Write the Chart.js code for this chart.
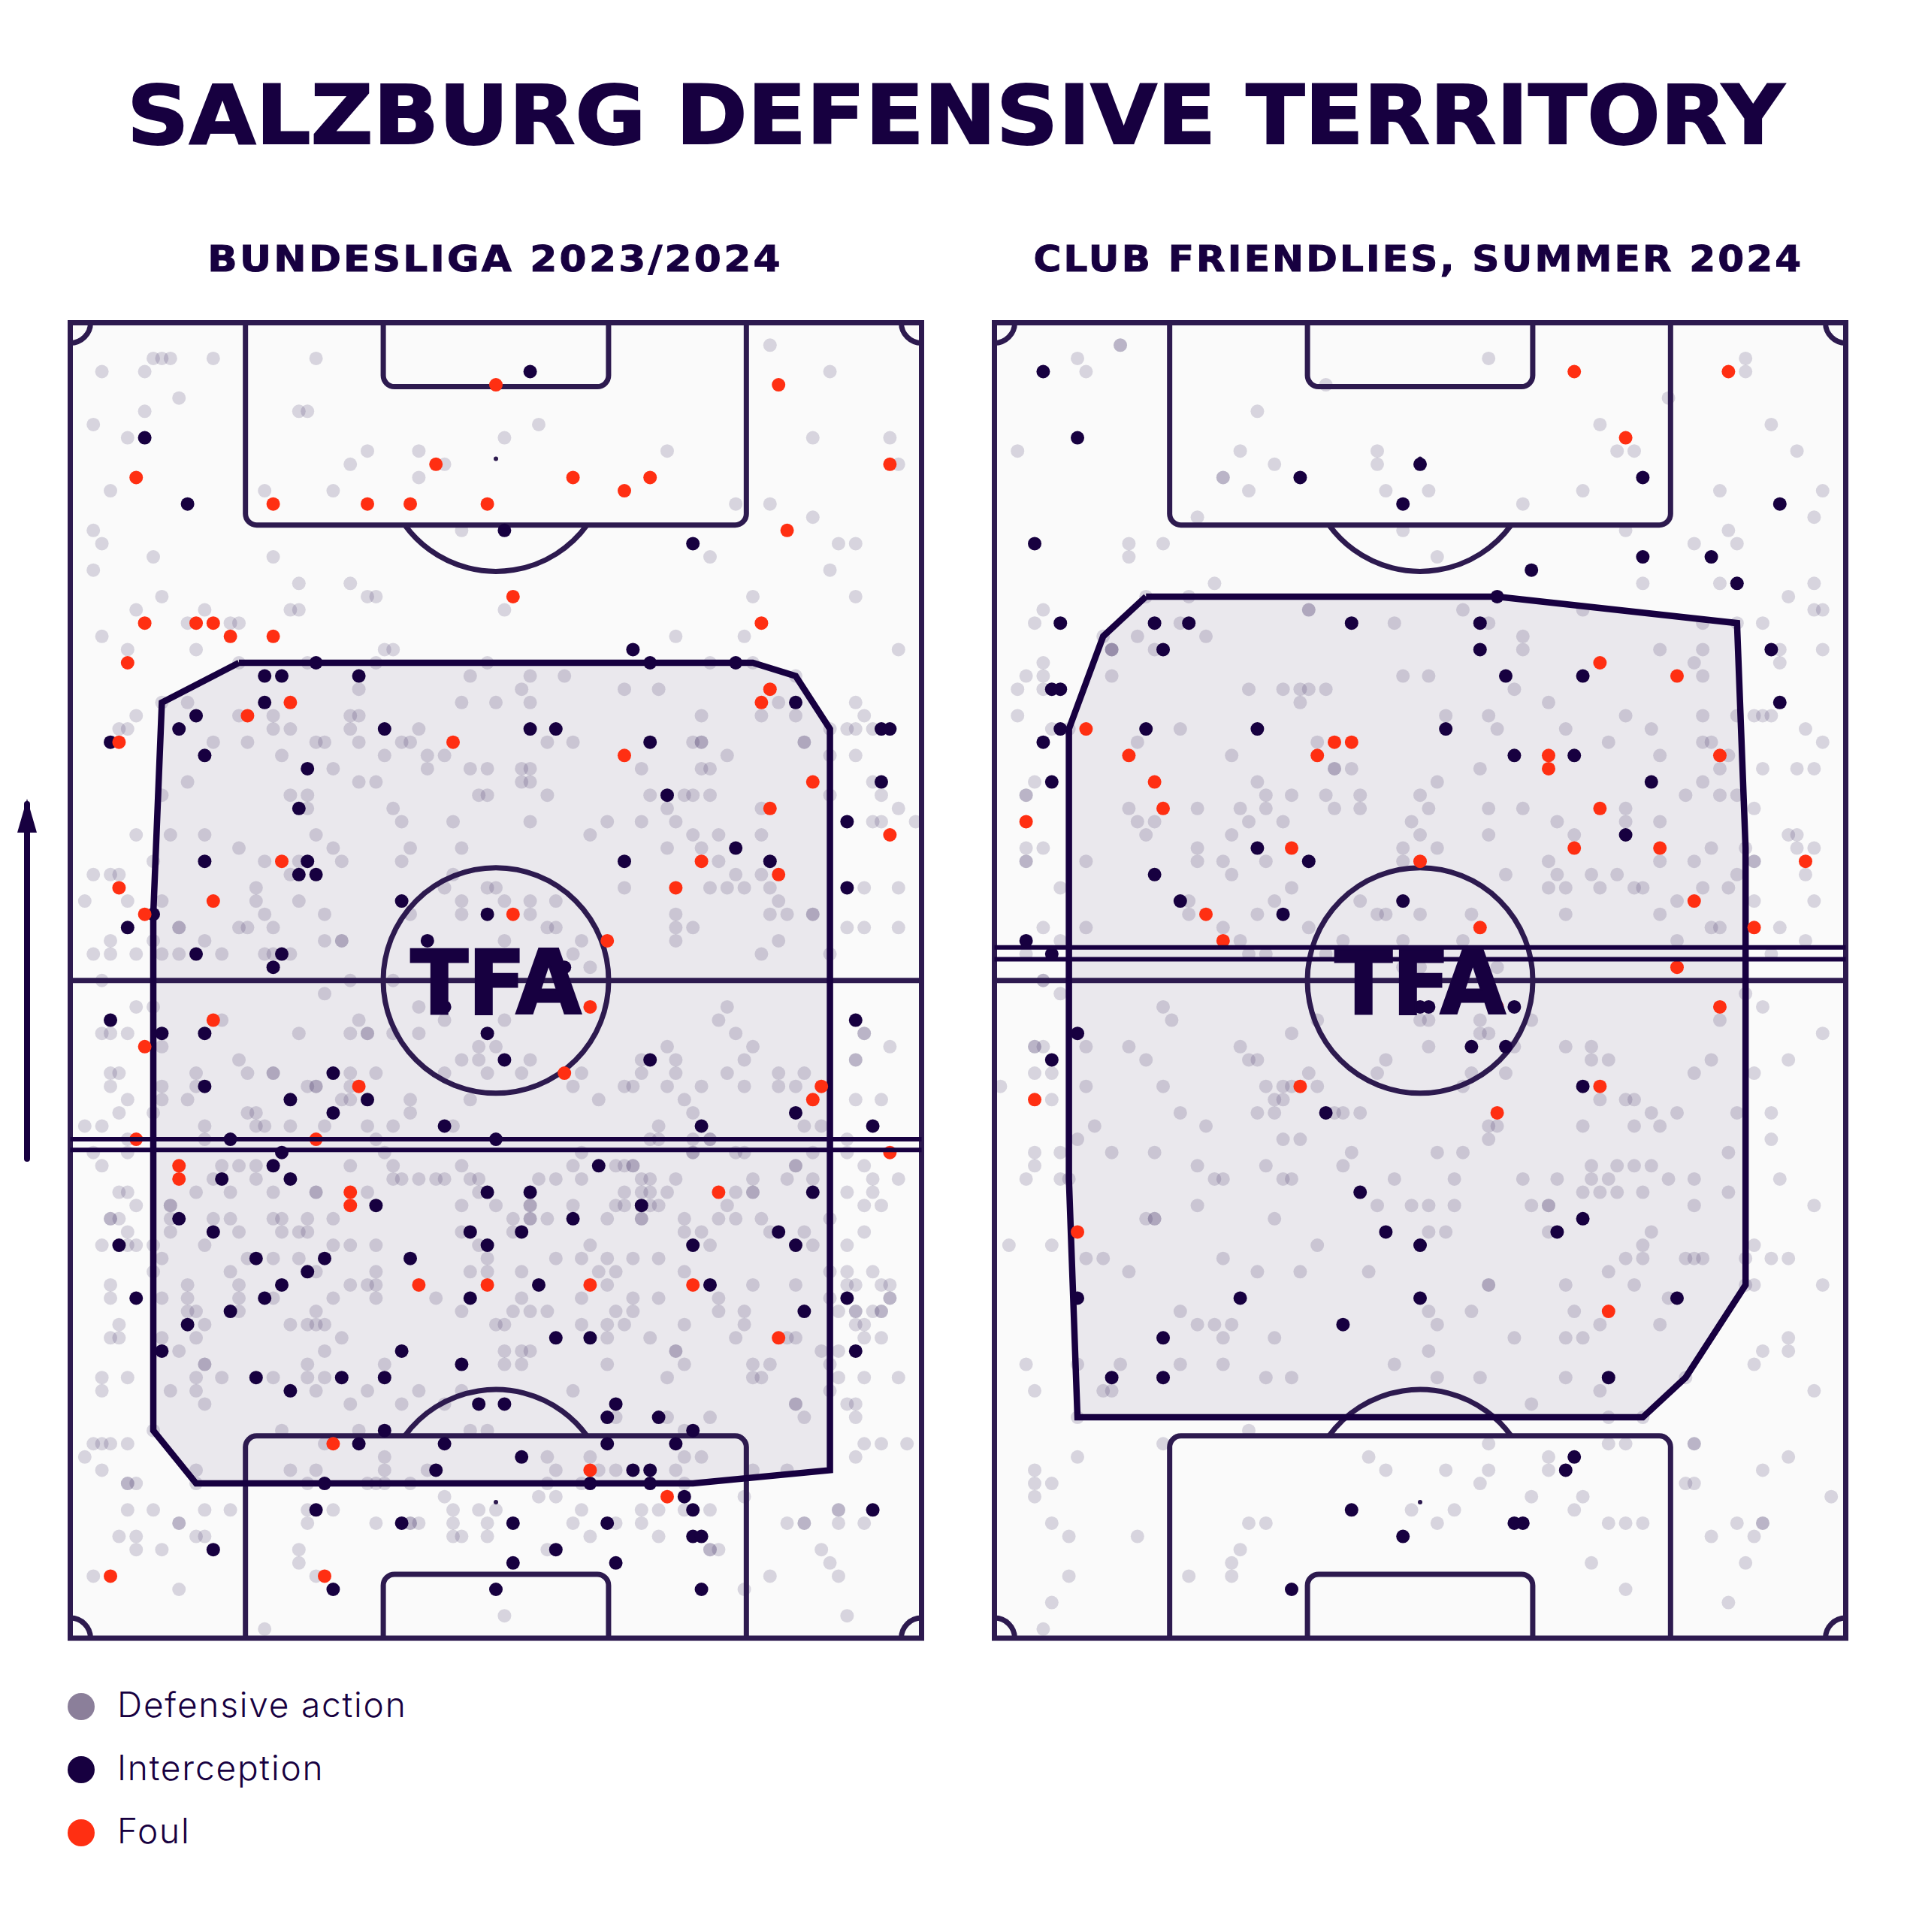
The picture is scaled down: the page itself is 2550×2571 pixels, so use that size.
<!DOCTYPE html>
<html>
<head>
<meta charset="utf-8">
<title>Salzburg defensive territory</title>
<script src="https://cdn.jsdelivr.net/npm/chart.js@4"></script>
<style>
  body { margin: 0; background: #fff; color: #170040; width: 2550px; height: 2571px; position: relative; overflow: hidden; }
  h1, h2, .legend-row, canvas, svg { position: absolute; margin: 0; }
  h1 { left: 0; top: 91px; width: 2544px; text-align: center; font: bold 108px/126px "DejaVu Sans"; transform: scaleX(1.062); -webkit-text-stroke: 2px #170040; }
  h2 { top: 316px; width: 1160px; text-align: center; font: bold 48px/56px "DejaVu Sans"; letter-spacing: 3px; -webkit-text-stroke: 1px #170040; }
  .legend-row { left: 90px; height: 36px; font: 300 46px/36px Inter; letter-spacing: 1.8px; display: flex; align-items: center; }
  .legend-row i { width: 36px; height: 36px; border-radius: 50%; margin-right: 30px; }
  .legend-row span { position: relative; top: -3px; }
</style>
</head>
<body>
<h1>SALZBURG DEFENSIVE TERRITORY</h1>
<h2 style="left:79px;transform:scaleX(1.079)">BUNDESLIGA 2023/2024</h2>
<h2 style="left:1308px;transform:scaleX(1.045)">CLUB FRIENDLIES, SUMMER 2024</h2>

<svg style="left:20px;top:1050px" width="32" height="510">
  <path d="M16 20V492" stroke="#170040" stroke-width="8" stroke-linecap="round"/>
  <path d="M16 13L29 58H3Z" fill="#170040"/>
</svg>

<canvas id="pitch1" style="left:80px;top:416px"></canvas>
<canvas id="pitch2" style="left:1310px;top:416px"></canvas>
<div id="legend"></div>

<script>
// values, [across, up] on the 0-100 pitch grid
const legendLabels = ['Defensive action', 'Interception', 'Foul'];

const bundesligaActions = [
  [82,98],[10,97],[11,97],[12,97],[17,97],[29,97],[4,96],[9,96],[89,96],[13,94],[9,93],[27,93],[28,93],
  [3,92],[55,92],[7,91],[51,91],[87,91],[96,91],[35,90],[41,90],[70,90],[33,89],[44,89],[97,89],[41,88],
  [5,87],[23,87],[31,87],[78,86],[82,86],[87,85],[3,84],[46,84],[4,83],[90,83],[92,83],[10,82],[24,82],[75,82],
  [3,81],[89,81],[27,80],[33,80],[11,79],[35,79],[36,79],[80,79],[92,79],[8,78],[16,78],[26,78],[27,78],[51,78],
  [14,77],[19,77],[20,77],[4,76],[71,76],[79,76],[7,75],[15,75],[37,75],[38,75],[97,75],
  [20,74],[28,74],[36,74],[49,74],[75,74],[80,74],[47,73],[54,73],[58,73],[85,73],
  [34,72],[53,72],[65,72],[69,72],[11,71],[14,71],[46,71],[50,71],[54,71],[83,71],[92,71],
  [8,70],[20,70],[24,70],[33,70],[34,70],[74,70],[81,70],[85,70],[93,70],
  [6,69],[7,69],[24,69],[26,69],[33,69],[41,69],[89,69],[91,69],[92,69],[94,69],
  [17,68],[21,68],[29,68],[30,68],[34,68],[39,68],[40,68],[56,68],[59,68],[73,68],[74,68],[74,68],[86,68],[86,68],
  [25,67],[37,67],[42,67],[44,67],[77,67],[89,67],[92,67],
  [31,66],[42,66],[47,66],[49,66],[53,66],[54,66],[67,66],[74,66],[75,66],
  [14,65],[34,65],[36,65],[53,65],[54,65],[94,65],
  [11,64],[26,64],[28,64],[48,64],[49,64],[56,64],[68,64],[72,64],[73,64],[75,64],[89,64],[95,64],
  [28,63],[38,63],[70,63],[81,63],[97,63],
  [39,62],[45,62],[54,62],[63,62],[67,62],[71,62],[94,62],[95,62],[99,62],
  [8,61],[12,61],[16,61],[29,61],[61,61],[73,61],[76,61],[81,61],
  [20,60],[31,60],[40,60],[46,60],[70,60],[74,60],
  [10,59],[23,59],[27,59],[32,59],[39,59],[76,59],
  [3,58],[5,58],[6,58],[26,58],[45,58],[78,58],[81,58],
  [22,57],[44,57],[49,57],[50,57],[65,57],[75,57],[77,57],[79,57],[82,57],[93,57],[97,57],
  [2,56],[7,56],[11,56],[22,56],[27,56],[46,56],[51,56],[54,56],[57,56],[83,56],
  [23,55],[30,55],[40,55],[46,55],[54,55],[71,55],[82,55],[84,55],[87,55],[87,55],
  [13,54],[13,54],[20,54],[21,54],[24,54],[56,54],[57,54],[71,54],[73,54],[91,54],[93,54],[97,54],
  [5,53],[10,53],[16,53],[30,53],[32,53],[32,53],[51,53],[60,53],[71,53],[83,53],
  [3,52],[5,52],[8,52],[11,52],[13,52],[18,52],[23,52],[24,52],[26,52],[59,52],[81,52],[89,52],
  [61,51],[4,50],[33,50],[38,50],
  [30,49],[8,48],[10,48],[41,48],[77,48],[18,47],[34,47],[44,47],[51,47],[76,47],
  [4,46],[5,46],[7,46],[27,46],[33,46],[35,46],[35,46],[38,46],[41,46],[78,46],[93,46],[93,46],
  [11,45],[48,45],[50,45],[70,45],[80,45],[96,45],
  [20,44],[46,44],[48,44],[54,44],[67,44],[71,44],[79,44],[92,44],[92,44],
  [5,43],[6,43],[15,43],[21,43],[24,43],[24,43],[33,43],[36,43],[44,43],[49,43],[53,43],[60,43],[67,43],[71,43],[77,43],[83,43],[86,43],
  [5,42],[11,42],[15,42],[28,42],[29,42],[29,42],[33,42],[59,42],[65,42],[66,42],[70,42],[74,42],[79,42],[83,42],[85,42],
  [7,41],[11,41],[14,41],[32,41],[33,41],[40,41],[47,41],[62,41],[72,41],[92,41],[95,41],
  [6,40],[10,40],[21,40],[22,40],[40,40],[73,40],
  [2,39],[4,39],[16,39],[22,39],[23,39],[26,39],[30,39],[35,39],[38,39],[45,39],[69,39],[86,39],[88,39],
  [7,38],[16,38],[36,38],[68,38],[69,38],[73,38],[75,38],[75,38],[91,38],
  [3,37],[7,37],[37,37],[60,37],[73,37],[73,37],[78,37],[79,37],[87,37],[91,37],
  [4,36],[18,36],[20,36],[22,36],[33,36],[38,36],[46,36],[59,36],[64,36],[65,36],[66,36],[66,36],[85,36],[85,36],[93,36],
  [17,35],[22,35],[38,35],[39,35],[41,35],[43,35],[44,35],[47,35],[48,35],[55,35],[57,35],[60,35],[67,35],[68,35],[71,35],[80,35],[84,35],[87,35],[94,35],[97,35],
  [6,34],[7,34],[15,34],[19,34],[24,34],[29,34],[29,34],[35,34],[48,34],[65,34],[67,34],[68,34],[70,34],[78,34],[80,34],[80,34],[91,34],[94,34],
  [8,33],[12,33],[12,33],[46,33],[50,33],[54,33],[54,33],[59,33],[64,33],[65,33],[68,33],[69,33],[77,33],[93,33],[95,33],
  [5,32],[5,32],[6,32],[12,32],[17,32],[19,32],[24,32],[25,32],[28,32],[31,32],[52,32],[54,32],[54,32],[56,32],[63,32],[67,32],[67,32],[72,32],[76,32],[78,32],[81,32],[89,32],
  [7,31],[12,31],[20,31],[25,31],[27,31],[28,31],[46,31],[52,31],[72,31],[74,31],[82,31],[86,31],[93,31],
  [4,30],[7,30],[8,30],[10,30],[16,30],[31,30],[33,30],[36,30],[48,30],[61,30],[75,30],[87,30],[91,30],
  [11,29],[21,29],[24,29],[27,29],[49,29],[57,29],[60,29],[63,29],[66,29],[69,29],
  [10,28],[19,28],[29,28],[36,28],[47,28],[49,28],[53,28],[62,28],[64,28],[72,28],[89,28],[91,28],[94,28],
  [5,27],[14,27],[20,27],[33,27],[35,27],[36,27],[63,27],[80,27],[85,27],[91,27],[92,27],[95,27],[96,27],
  [5,26],[11,26],[14,26],[20,26],[24,26],[31,26],[36,26],[43,26],[53,26],[60,26],[66,26],[69,26],[76,26],[89,26],[96,26],[96,26],
  [14,25],[15,25],[20,25],[29,25],[46,25],[52,25],[54,25],[56,25],[64,25],[66,25],[76,25],[79,25],[90,25],[92,25],[92,25],[94,25],[95,25],[95,25],
  [6,24],[16,24],[26,24],[28,24],[29,24],[30,24],[50,24],[51,24],[60,24],[63,24],[65,24],[72,24],[79,24],[92,24],[93,24],
  [5,23],[6,23],[11,23],[15,23],[32,23],[63,23],[68,23],[78,23],[84,23],[85,23],[93,23],[95,23],
  [13,22],[30,22],[51,22],[53,22],[54,22],[71,22],[71,22],[88,22],[90,22],
  [16,21],[16,21],[28,21],[37,21],[51,21],[53,21],[63,21],[72,21],[80,21],[82,21],[89,21],
  [4,20],[7,20],[15,20],[18,20],[24,20],[28,20],[30,20],[70,20],[80,20],[81,20],[90,20],[93,20],[97,20],
  [4,19],[12,19],[15,19],[29,19],[35,19],[41,19],[46,19],[59,19],[89,19],
  [16,18],[33,18],[39,18],[44,18],[85,18],[85,18],[91,18],[92,18],
  [64,17],[70,17],[75,17],[86,17],[92,17],[10,16],[25,16],[34,16],[47,16],[49,16],[72,16],
  [3,15],[4,15],[5,15],[7,15],[30,15],[93,15],[95,15],[98,15],
  [2,14],[37,14],[56,14],[61,14],[72,14],[74,14],[92,14],
  [4,13],[15,13],[26,13],[29,13],[37,13],[42,13],[57,13],[62,13],[64,13],[71,13],[80,13],[84,13],
  [7,12],[7,12],[8,12],[15,12],[28,12],[35,12],[36,12],[37,12],[40,12],[56,12],[60,12],[72,12],
  [44,11],[55,11],[57,11],[79,11],
  [7,10],[10,10],[16,10],[19,10],[28,10],[31,10],[45,10],[48,10],[50,10],[60,10],[67,10],[69,10],[72,10],[75,10],[90,10],[90,10],
  [13,9],[13,9],[28,9],[36,9],[40,9],[40,9],[41,9],[45,9],[49,9],[59,9],[64,9],[67,9],[84,9],[86,9],[86,9],[90,9],[93,9],
  [6,8],[8,8],[15,8],[16,8],[45,8],[46,8],[49,8],[61,8],[69,8],
  [8,7],[11,7],[27,7],[56,7],[75,7],[75,7],[76,7],[88,7],[27,6],[89,6],
  [3,5],[29,5],[82,5],[90,5],[13,4],[79,4],[51,2],[91,2],[23,1]
];
const bundesligaInterceptions = [
  [54,96],[9,91],[14,86],[51,84],[73,83],[66,75],[29,74],[68,74],[78,74],[23,73],[25,73],[34,73],[23,71],[85,71],[15,70],
  [13,69],[37,69],[54,69],[57,69],[95,69],[96,69],[5,68],[68,68],[16,67],[28,66],[95,65],[70,64],[27,63],[91,62],[78,60],
  [16,59],[28,59],[65,59],[82,59],[27,58],[29,58],[91,57],[39,56],[10,55],[49,55],[7,54],[42,53],[15,52],[25,52],[24,51],[58,51],
  [44,48],[5,47],[92,47],[11,46],[16,46],[49,46],[51,44],[68,44],[31,43],[16,42],[26,41],[35,41],[31,40],[85,40],
  [44,39],[74,39],[94,39],[19,38],[50,38],[25,37],[24,36],[62,36],[18,35],[26,35],[49,34],[54,34],[87,34],[36,33],[67,33],
  [13,32],[59,32],[17,31],[47,31],[53,31],[83,31],[6,30],[49,30],[73,30],[85,30],[22,29],[30,29],[40,29],[28,28],
  [25,27],[55,27],[75,27],[8,26],[23,26],[47,26],[91,26],[19,25],[86,25],[14,24],[57,23],[61,23],[11,22],[39,22],[92,22],
  [46,21],[22,20],[32,20],[37,20],[26,19],[48,18],[51,18],[64,18],[63,17],[69,17],[37,16],[73,16],[34,15],[44,15],[63,15],[71,15],
  [53,14],[43,13],[66,13],[68,13],[30,12],[61,12],[68,12],[72,11],[29,10],[73,10],[94,10],[39,9],[52,9],[63,9],[73,8],[74,8],
  [17,7],[57,7],[52,6],[64,6],[31,4],[50,4],[74,4]
];
const bundesligaFouls = [
  [50,95],[83,95],[96,89],[43,89],[8,88],[59,88],[68,88],[65,87],[24,86],[35,86],[40,86],[49,86],[84,84],[52,79],
  [9,77],[15,77],[17,77],[81,77],[19,76],[24,76],[7,74],[82,72],[26,71],[81,71],[21,70],[6,68],[45,68],[65,67],[87,65],
  [82,63],[96,61],[25,59],[74,59],[83,58],[6,57],[71,57],[17,56],[9,55],[52,55],[63,53],[61,48],[17,47],[9,45],[58,43],
  [34,42],[88,42],[87,41],[8,38],[29,38],[96,37],[13,36],[13,35],[33,34],[76,34],[33,33],[41,27],[49,27],[61,27],[73,27],
  [83,23],[31,15],[61,13],[70,11],[5,5],[30,5]
];
const bundesligaHull = [[20,74],[11,71],[10,55],[10,16],[15,12],[73,12],[89,13],[89,69],[85,73],[80,74],[20,74]];
const bundesligaDefLines = [38, 37.2];

const friendliesActions = [
  [15,98],[15,98],[10,97],[58,97],[88,97],[11,96],[88,96],[39,95],[79,94],[31,93],[71,92],[91,92],
  [3,90],[29,90],[45,90],[73,90],[75,90],[94,90],[33,89],[45,89],[27,88],[27,88],
  [30,87],[46,87],[51,87],[69,87],[85,87],[97,87],[62,86],[24,85],[96,85],[48,84],[74,84],[86,84],
  [16,83],[20,83],[82,83],[87,83],[16,82],[52,82],[26,80],[76,80],[85,80],[96,80],[18,79],[23,79],[93,79],
  [6,78],[37,78],[37,78],[55,78],[69,78],[96,78],[97,78],[5,77],[22,77],[47,77],[58,77],[83,77],[87,77],[90,77],
  [13,76],[17,76],[25,76],[62,76],[14,75],[14,75],[14,75],[19,75],[62,75],[78,75],[83,75],[92,75],[97,75],
  [6,74],[82,74],[92,74],[4,73],[6,73],[14,73],[48,73],[51,73],[83,73],
  [3,72],[6,72],[30,72],[34,72],[36,72],[37,72],[39,72],[61,72],[36,71],[65,71],
  [3,70],[53,70],[58,70],[74,70],[83,70],[87,70],[89,70],[90,70],[91,70],
  [7,69],[9,69],[22,69],[59,69],[67,69],[77,69],[95,69],
  [17,68],[38,68],[72,68],[83,68],[84,68],[97,68],[28,67],[78,67],[86,67],
  [40,66],[40,66],[42,66],[57,66],[85,66],[90,66],[94,66],[96,66],[5,65],[31,65],[52,65],[83,65],
  [4,64],[4,64],[32,64],[35,64],[39,64],[43,64],[50,64],[81,64],[85,64],[87,64],
  [16,63],[24,63],[29,63],[32,63],[40,63],[43,63],[51,63],[58,63],[62,63],[74,63],[89,63],
  [17,62],[19,62],[30,62],[34,62],[49,62],[66,62],[74,62],[78,62],
  [18,61],[28,61],[50,61],[58,61],[68,61],[93,61],[94,61],
  [4,60],[6,60],[24,60],[48,60],[52,60],[84,60],[88,60],[94,60],[96,60],
  [4,59],[4,59],[11,59],[24,59],[27,59],[32,59],[48,59],[65,59],[78,59],[82,59],[89,59],[89,59],
  [28,58],[60,58],[66,58],[70,58],[73,58],[87,58],[95,58],
  [8,57],[35,57],[65,57],[67,57],[71,57],[75,57],[76,57],[83,57],[86,57],
  [23,56],[33,56],[43,56],[80,56],[89,56],[96,56],
  [23,55],[31,55],[45,55],[46,55],[50,55],[56,55],[67,55],[78,55],
  [6,54],[11,54],[27,54],[37,54],[84,54],[85,54],[92,54],
  [8,53],[29,53],[41,53],[48,53],[55,53],[80,53],[95,53],
  [4,52],[30,52],[32,52],[39,52],[91,52],[48,51],[50,51],[59,51],[6,50],[6,50],
  [8,49],[88,49],[20,48],[90,48],[21,47],[38,47],[50,47],[51,47],[57,47],[63,47],[85,47],
  [35,46],[57,46],[58,46],[97,46],[5,45],[5,45],[6,45],[11,45],[16,45],[29,45],[51,45],[61,45],[67,45],[70,45],
  [18,44],[30,44],[31,44],[46,44],[70,44],[72,44],[84,44],[93,44],
  [5,43],[7,43],[37,43],[45,43],[56,43],[60,43],[82,43],[89,43],
  [1,42],[11,42],[20,42],[32,42],[34,42],[35,42],[38,42],[55,42],
  [7,41],[33,41],[34,41],[71,41],[74,41],[75,41],
  [22,40],[31,40],[33,40],[40,40],[41,40],[43,40],[77,40],[80,40],[87,40],[91,40],
  [12,39],[25,39],[58,39],[59,39],[69,39],[75,39],[78,39],[10,38],[34,38],[36,38],[58,38],[91,38],
  [5,37],[8,37],[14,37],[19,37],[42,37],[52,37],[55,37],[86,37],
  [5,36],[24,36],[32,36],[41,36],[70,36],[73,36],[75,36],[77,36],
  [4,35],[8,35],[9,35],[26,35],[27,35],[34,35],[35,35],[47,35],[54,35],[62,35],[66,35],[70,35],[72,35],[79,35],[82,35],[92,35],
  [69,34],[71,34],[73,34],[76,34],[86,34],
  [24,33],[45,33],[49,33],[51,33],[54,33],[63,33],[65,33],[65,33],[82,33],[96,33],
  [18,32],[19,32],[19,32],[33,32],[51,31],[53,31],[65,31],[77,31],
  [2,30],[7,30],[38,30],[76,30],[89,30],
  [11,29],[13,29],[27,29],[74,29],[76,29],[81,29],[82,29],[83,29],[88,29],[91,29],[93,29],
  [16,28],[31,28],[36,28],[44,28],[72,28],
  [58,27],[58,27],[67,27],[75,27],[89,27],[97,27],[88,27],[79,26],
  [22,25],[51,25],[56,25],[68,25],
  [24,24],[26,24],[28,24],[52,24],[71,24],[78,24],
  [27,23],[33,23],[61,23],[67,23],[69,23],[93,23],[51,22],[90,22],[93,22],
  [4,21],[10,21],[15,21],[22,21],[27,21],[47,21],[89,21],
  [32,20],[35,20],[52,20],[57,20],[67,20],[81,20],
  [5,19],[13,19],[14,19],[71,19],[96,19],[63,18],[10,17],[72,17],[76,17],[30,16],
  [20,15],[58,15],[72,15],[74,15],[82,15],[82,15],[10,14],[44,14],[65,14],[93,14],
  [5,13],[46,13],[53,13],[58,13],[65,13],[90,13],[5,12],[7,12],[57,12],[81,12],[82,12],
  [5,11],[63,11],[69,11],[98,11],[49,10],[54,10],[68,10],
  [7,9],[30,9],[32,9],[52,9],[72,9],[74,9],[76,9],[87,9],[90,9],[90,9],
  [9,8],[17,8],[84,8],[89,8],[29,7],[28,6],[70,6],[88,6],[9,5],[23,5],[28,5],[74,4],[7,3],[86,3],[6,1]
];
const friendliesInterceptions = [
  [6,96],[10,91],[50,89],[36,88],[76,88],[48,86],[92,86],[5,83],[76,82],[84,82],[63,81],[87,80],[59,79],
  [8,77],[19,77],[23,77],[42,77],[57,77],[20,75],[57,75],[91,75],[60,73],[69,73],[7,72],[8,72],[92,71],
  [8,69],[18,69],[31,69],[53,69],[6,68],[61,67],[68,67],[7,65],[77,65],[74,61],[31,60],[37,59],[19,58],
  [22,56],[48,56],[34,55],[4,53],[7,52],[50,48],[51,48],[61,48],[10,46],[56,45],[60,45],[7,44],[69,42],
  [39,40],[43,34],[69,32],[46,31],[66,31],[50,30],[10,26],[29,26],[50,26],[80,26],[41,24],[20,23],
  [14,20],[20,20],[72,20],[68,14],[67,13],[42,10],[61,9],[62,9],[48,8],[35,4]
];
const friendliesFouls = [
  [68,96],[86,96],[74,91],[71,74],[80,73],[11,69],[40,68],[42,68],[16,67],[38,67],[65,67],[85,67],[65,66],[19,65],
  [20,63],[71,63],[4,62],[35,60],[68,60],[78,60],[50,59],[95,59],[82,56],[25,55],[57,54],[89,54],[27,53],[80,51],
  [59,48],[85,48],[36,42],[71,42],[5,41],[59,40],[10,31],[72,25]
];
const friendliesHull = [[18,79],[13,76],[9,69],[9,35],[10,17],[76,17],[81,20],[88,27],[88,60],[87,77],[59,79],[18,79]];
const friendliesDefLines = [52.5, 51.6];

const ink = '#170040';
const lineColor = '#2d1a4f';
const actionColor = 'rgba(23,0,64,0.15)';
const legendColors = ['#8b7f9a', ink, '#ff2f12'];
const fieldColor = '#fafafa';

// pitch markings in pitch units
const pitchX = { min: 0.305, max: 99.695 };
const pitchY = { min: 0.31, max: 99.69 };
const boxX = [20.76, 79.24];
const sixX = [36.85, 63.15];
const boxDepth = 15.59;
const sixDepth = 5.14;
const spotDepth = 10.58;
const ringRadius = 150;
const cornerRadius = 27;

// rounded box that stands on a goal line
function drawBox(ctx, x, y, xs, goal, depth) {
  const left = x.getPixelForValue(xs[0]);
  const right = x.getPixelForValue(xs[1]);
  const g = y.getPixelForValue(goal);
  const d = y.getPixelForValue(depth);
  ctx.beginPath();
  ctx.moveTo(left, g);
  ctx.arcTo(left, d, right, d, 15);
  ctx.arcTo(right, d, right, g, 15);
  ctx.lineTo(right, g);
  ctx.stroke();
}

function drawPitch(chart) {
  const { ctx, scales: { x, y } } = chart;
  const cx = x.getPixelForValue(50);
  const cy = y.getPixelForValue(50);
  const [l, r] = [x.getPixelForValue(pitchX.min), x.getPixelForValue(pitchX.max)];
  const [t, b] = [y.getPixelForValue(pitchY.max), y.getPixelForValue(pitchY.min)];
  ctx.save();
  ctx.strokeStyle = lineColor;
  ctx.fillStyle = lineColor;
  ctx.lineWidth = 7;

  // halfway line and centre circle
  ctx.beginPath();
  ctx.moveTo(l, cy);
  ctx.lineTo(r, cy);
  ctx.moveTo(cx + ringRadius, cy);
  ctx.arc(cx, cy, ringRadius, 0, Math.PI * 2);
  ctx.stroke();

  // both ends
  [[pitchY.max, 1], [pitchY.min, -1]].forEach(([goal, dir]) => {
    const depth = v => (dir > 0 ? 100 - v : v);
    drawBox(ctx, x, y, boxX, goal, depth(boxDepth));
    drawBox(ctx, x, y, sixX, goal, depth(sixDepth));
    const spot = y.getPixelForValue(depth(spotDepth));
    const edge = y.getPixelForValue(depth(boxDepth));
    ctx.beginPath();
    ctx.arc(cx, spot, 3, 0, Math.PI * 2);
    ctx.fill();
    const a = Math.acos(Math.abs(edge - spot) / ringRadius);
    const down = dir > 0 ? Math.PI / 2 : -Math.PI / 2;
    ctx.beginPath();
    ctx.arc(cx, spot, ringRadius, down - a, down + a);
    ctx.stroke();
  });

  // corners
  [[l, t, 0], [r, t, Math.PI / 2], [r, b, Math.PI], [l, b, -Math.PI / 2]].forEach(([px, py, from]) => {
    ctx.beginPath();
    ctx.arc(px, py, cornerRadius, from, from + Math.PI / 2);
    ctx.stroke();
  });

  ctx.strokeRect(l, t, r - l, b - t);
  ctx.restore();
}

const pitchPlugin = {
  id: 'pitch',
  beforeDatasetsDraw(chart) {
    const { ctx, chartArea: a } = chart;
    ctx.fillStyle = fieldColor;
    ctx.fillRect(a.left, a.top, a.right - a.left, a.bottom - a.top);
  },
  afterDatasetDraw(chart, args) {
    if (args.meta.label === legendLabels[0]) drawPitch(chart);
  },
  afterDatasetsDraw(chart) {
    const { ctx, scales: { x, y } } = chart;
    ctx.save();
    ctx.fillStyle = ink;
    ctx.strokeStyle = ink;
    ctx.lineWidth = 3;
    ctx.font = 'bold 118px "DejaVu Sans"';
    ctx.textAlign = 'center';
    ctx.translate(x.getPixelForValue(50), y.getPixelForValue(47.5));
    ctx.scale(0.95, 1);
    ctx.fillText('TFA', 0, 0);
    ctx.strokeText('TFA', 0, 0);
    ctx.restore();
  }
};

function buildPitch(canvasId, actions, interceptions, fouls, hull, defLines) {
  const canvas = document.getElementById(canvasId);
  canvas.width = 1160;
  canvas.height = 1778;
  const dots = (label, data, color, order) => ({
    label, data, order, clip: false, pointRadius: 9, pointBorderWidth: 0, backgroundColor: color, pointBackgroundColor: color
  });
  const outline = (label, data, order, width) => ({
    label, data, order, clip: false, showLine: true, tension: 0, pointRadius: 0, borderColor: ink, borderWidth: width, borderJoinStyle: 'miter'
  });
  new Chart(canvas, {
    type: 'scatter',
    data: {
      datasets: [
        { label: 'Territory', data: hull, order: 7, showLine: true, tension: 0, pointRadius: 0, borderWidth: 0, fill: 'shape', backgroundColor: 'rgba(23,0,64,0.07)' },
        dots(legendLabels[0], actions, actionColor, 6),
        outline('Hull', hull, 5, 8.5),
        dots(legendLabels[1], interceptions, legendColors[1], 4),
        dots(legendLabels[2], fouls, legendColors[2], 3),
        ...defLines.map((v, i) => outline('Line ' + i, [[pitchX.min, v], [pitchX.max, v]], 2, 6))
      ]
    },
    options: {
      responsive: false,
      animation: false,
      events: [],
      layout: { padding: { left: 13.5, right: 13.5, top: 13.5, bottom: 14 } },
      scales: {
        x: { type: 'linear', display: false, min: pitchX.min, max: pitchX.max },
        y: { type: 'linear', display: false, min: pitchY.min, max: pitchY.max }
      },
      plugins: { legend: { display: false }, tooltip: { enabled: false } }
    },
    plugins: [pitchPlugin]
  });
}

function renderLegend() {
  const legend = document.getElementById('legend');
  legendLabels.forEach((label, i) => {
    const row = document.createElement('div');
    row.className = 'legend-row';
    row.style.top = (2253 + i * 84) + 'px';
    row.innerHTML = `<i style="background:${legendColors[i]}"></i><span>${label}</span>`;
    legend.appendChild(row);
  });
}

buildPitch('pitch1', bundesligaActions, bundesligaInterceptions, bundesligaFouls, bundesligaHull, bundesligaDefLines);
buildPitch('pitch2', friendliesActions, friendliesInterceptions, friendliesFouls, friendliesHull, friendliesDefLines);
renderLegend();
</script>
</body>
</html>
